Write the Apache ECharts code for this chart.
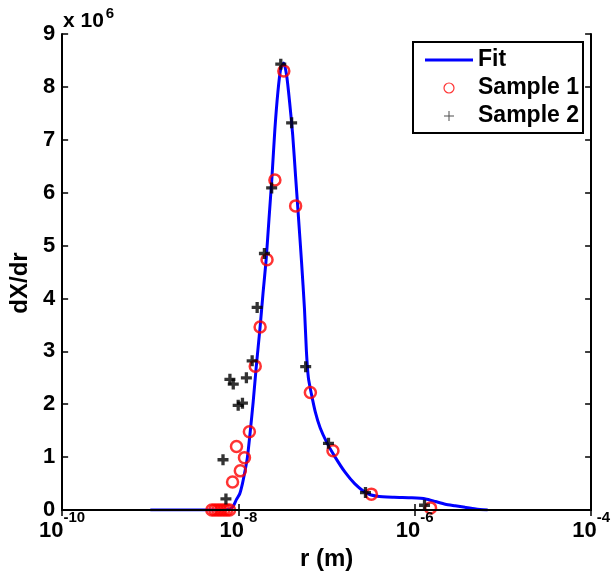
<!DOCTYPE html>
<html lang="en">
<head>
<meta charset="UTF-8">
<title>dX/dr vs r</title>
<script src="https://cdn.jsdelivr.net/npm/echarts@6.0.0/dist/echarts.min.js"></script>
<style>
  html, body { margin: 0; padding: 0; background: #fff; }
  #chart { width: 613px; height: 580px; }
</style>
</head>
<body>
<div id="chart"></div>
<script>
// Fit curve (r in m, dX/dr in units of 1e6)
const fitR = [1.0e-9, 2.31e-9, 4.99e-9, 7.16e-9, 8.15e-9, 8.79e-9, 9.50e-9, 1.03e-8, 1.11e-8, 1.20e-8,
  1.26e-8, 1.36e-8, 1.47e-8, 1.59e-8, 1.76e-8, 1.90e-8, 2.06e-8, 2.22e-8, 2.40e-8, 2.59e-8,
  2.80e-8, 3.02e-8, 3.27e-8, 3.53e-8, 3.81e-8, 4.12e-8, 4.45e-8, 4.81e-8, 5.19e-8, 5.61e-8,
  5.90e-8, 6.21e-8, 6.71e-8, 7.45e-8, 8.46e-8, 1.01e-7, 1.25e-7, 1.61e-7, 2.08e-7, 2.84e-7,
  3.76e-7, 5.82e-7, 9.25e-7, 1.33e-6, 1.72e-6, 2.22e-6, 2.87e-6, 3.72e-6, 4.93e-6, 6.71e-6];
const fitV = [0, 0, 0, 0.005, 0.02, 0.08, 0.2, 0.3, 0.5, 0.78,
  0.98, 1.48, 2.05, 2.7, 3.46, 4.1, 4.73, 5.5, 6.3, 7.2,
  7.9, 8.35, 8.45, 8.2, 7.7, 7.1, 6.3, 5.5, 4.7, 3.8,
  3.0, 2.5, 2.2, 1.85, 1.55, 1.27, 1.0, 0.72, 0.5, 0.32,
  0.26, 0.24, 0.23, 0.21, 0.16, 0.11, 0.08, 0.05, 0.02, 0];

// Sample 1 (circles)
const s1R = [4.99e-9, 5.39e-9, 5.83e-9, 6.29e-9, 6.80e-9, 7.34e-9, 7.93e-9,
  8.57e-9, 9.50e-9, 1.05e-8, 1.17e-8, 1.33e-8, 1.55e-8, 1.76e-8, 2.11e-8, 2.59e-8,
  3.27e-8, 4.45e-8, 6.54e-8, 1.18e-7, 3.22e-7, 1.51e-6];
const s1V = [0, 0, 0, 0, 0, 0, 0,
  0.53, 1.2, 0.74, 0.99, 1.48, 2.72, 3.46, 4.73, 6.24,
  8.3, 5.75, 2.22, 1.12, 0.30, 0.04];

// Sample 2 (plus signs)
const s2R = [6.68e-9, 7.21e-9, 8.00e-9, 8.73e-9, 9.93e-9, 1.11e-8, 1.23e-8, 1.43e-8, 1.63e-8,
  1.97e-8, 2.38e-8, 3.02e-8, 4.01e-8, 5.79e-8, 1.05e-7, 2.76e-7, 1.29e-6];
const s2V = [0.95, 0.21, 2.47, 2.38, 1.98, 2.02, 2.50, 2.82, 3.83,
  4.85, 6.09, 8.43, 7.32, 2.71, 1.26, 0.33, 0.09];

const xTicks = [1e-10, 1e-8, 1e-6, 1e-4];
const yScale = 1e6;

const pair = (rs, vs) => rs.map((r, i) => [r, vs[i] * yScale]);

const FONT = '"Liberation Sans", Arial, Helvetica, sans-serif';
const PLUS = 'path://M3.5,0H6.5V3.5H10V6.5H6.5V10H3.5V6.5H0V3.5H3.5Z';
const PLUS_THIN = 'path://M4.5,0H5.5V4.5H10V5.5H5.5V10H4.5V5.5H0V4.5H4.5Z';
const LINE_ICON = 'path://M0,0H48V3H0Z';

const chart = echarts.init(document.getElementById('chart'));

const axisLine = { show: true, lineStyle: { color: '#000', width: 2 } };

chart.setOption({
  animation: false,
  textStyle: { fontFamily: FONT },
  title: {
    text: '{a|x 10}{b|6}',
    left: 58,
    top: 6,
    textStyle: {
      rich: {
        a: { fontFamily: FONT, fontSize: 21, fontWeight: 'bold', color: '#000', lineHeight: 21, verticalAlign: 'bottom' },
        b: { fontFamily: FONT, fontSize: 15, fontWeight: 'bold', color: '#000', lineHeight: 15, verticalAlign: 'bottom', padding: [0, 0, 11, 2] }
      }
    }
  },
  grid: { left: 58, top: 34, right: 18, bottom: 70 },
  legend: {
    orient: 'vertical',
    left: 413,
    top: 42,
    padding: [6, 4, 5, 12],
    itemGap: 4,
    itemWidth: 48,
    itemHeight: 10,
    borderColor: '#000',
    borderWidth: 2,
    backgroundColor: '#fff',
    textStyle: { fontFamily: FONT, fontSize: 23, fontWeight: 'bold', color: '#000', lineHeight: 24 },
    data: [
      { name: 'Fit', icon: LINE_ICON, itemStyle: { color: '#0000ff', borderWidth: 0 } },
      { name: 'Sample 1', icon: 'circle', itemStyle: { color: 'rgba(0,0,0,0)', borderColor: '#ff0000', borderWidth: 1.2 } },
      { name: 'Sample 2', icon: PLUS_THIN, itemStyle: { color: '#222', borderWidth: 0 } }
    ]
  },
  xAxis: [
    {
      type: 'log',
      logBase: 10,
      min: 1e-10,
      max: 1e-4,
      z: 10,
      position: 'bottom',
      axisLine: axisLine,
      axisTick: { show: true, inside: true, length: 6, lineStyle: { color: '#000', width: 1.5 }, customValues: xTicks },
      minorTick: { show: false },
      splitLine: { show: false },
      axisLabel: {
        customValues: xTicks,
        margin: 10,
        formatter: function (v) {
          const e = Math.round(Math.log10(v));
          return '{b|10}{s|' + e + '}';
        },
        rich: {
          b: { fontFamily: FONT, fontSize: 22, fontWeight: 'bold', color: '#000', lineHeight: 22, verticalAlign: 'bottom' },
          s: { fontFamily: FONT, fontSize: 15, fontWeight: 'bold', color: '#000', lineHeight: 15, verticalAlign: 'bottom', padding: [0, 0, 17, 0] }
        }
      },
      name: 'r (m)',
      nameLocation: 'middle',
      nameGap: 35,
      nameTextStyle: { fontFamily: FONT, fontSize: 24, fontWeight: 'bold', color: '#000' }
    },
    {
      type: 'log',
      logBase: 10,
      min: 1e-10,
      max: 1e-4,
      z: 10,
      position: 'top',
      axisLine: axisLine,
      axisTick: { show: true, inside: true, length: 6, lineStyle: { color: '#000', width: 1.5 }, customValues: xTicks },
      splitLine: { show: false },
      axisLabel: { show: false }
    }
  ],
  yAxis: [
    {
      type: 'value',
      min: 0,
      max: 9 * yScale,
      interval: yScale,
      z: 10,
      position: 'left',
      axisLine: axisLine,
      axisTick: { show: true, inside: true, length: 6, lineStyle: { color: '#000', width: 1.5 } },
      splitLine: { show: false },
      axisLabel: {
        margin: 7,
        fontFamily: FONT,
        fontSize: 22,
        fontWeight: 'bold',
        color: '#000',
        formatter: v => String(Math.round(v / yScale))
      },
      name: 'dX/dr',
      nameLocation: 'middle',
      nameGap: 22,
      nameTextStyle: { fontFamily: FONT, fontSize: 24, fontWeight: 'bold', color: '#000', padding: [0, 22, 0, 0] }
    },
    {
      type: 'value',
      min: 0,
      max: 9 * yScale,
      interval: yScale,
      z: 10,
      position: 'right',
      axisLine: axisLine,
      axisTick: { show: true, inside: true, length: 6, lineStyle: { color: '#000', width: 1.5 } },
      splitLine: { show: false },
      axisLabel: { show: false }
    }
  ],
  series: [
    {
      name: 'Fit',
      type: 'line',
      data: pair(fitR, fitV),
      symbol: 'none',
      smooth: 0.2,
      lineStyle: { color: '#0000ff', width: 3 },
      itemStyle: { color: '#0000ff' },
      z: 2
    },
    {
      name: 'Sample 1',
      type: 'scatter',
      data: pair(s1R, s1V),
      symbol: 'circle',
      symbolSize: 11,
      clip: false,
      itemStyle: { color: 'rgba(0,0,0,0)', borderColor: '#ff0000', borderWidth: 2.5 },
      z: 3
    },
    {
      name: 'Sample 2',
      type: 'scatter',
      data: pair(s2R, s2V),
      symbol: PLUS,
      symbolSize: 11,
      clip: false,
      itemStyle: { color: '#000' },
      z: 4
    }
  ]
});

window.addEventListener('resize', function () {
  chart.resize();
});
</script>
</body>
</html>
